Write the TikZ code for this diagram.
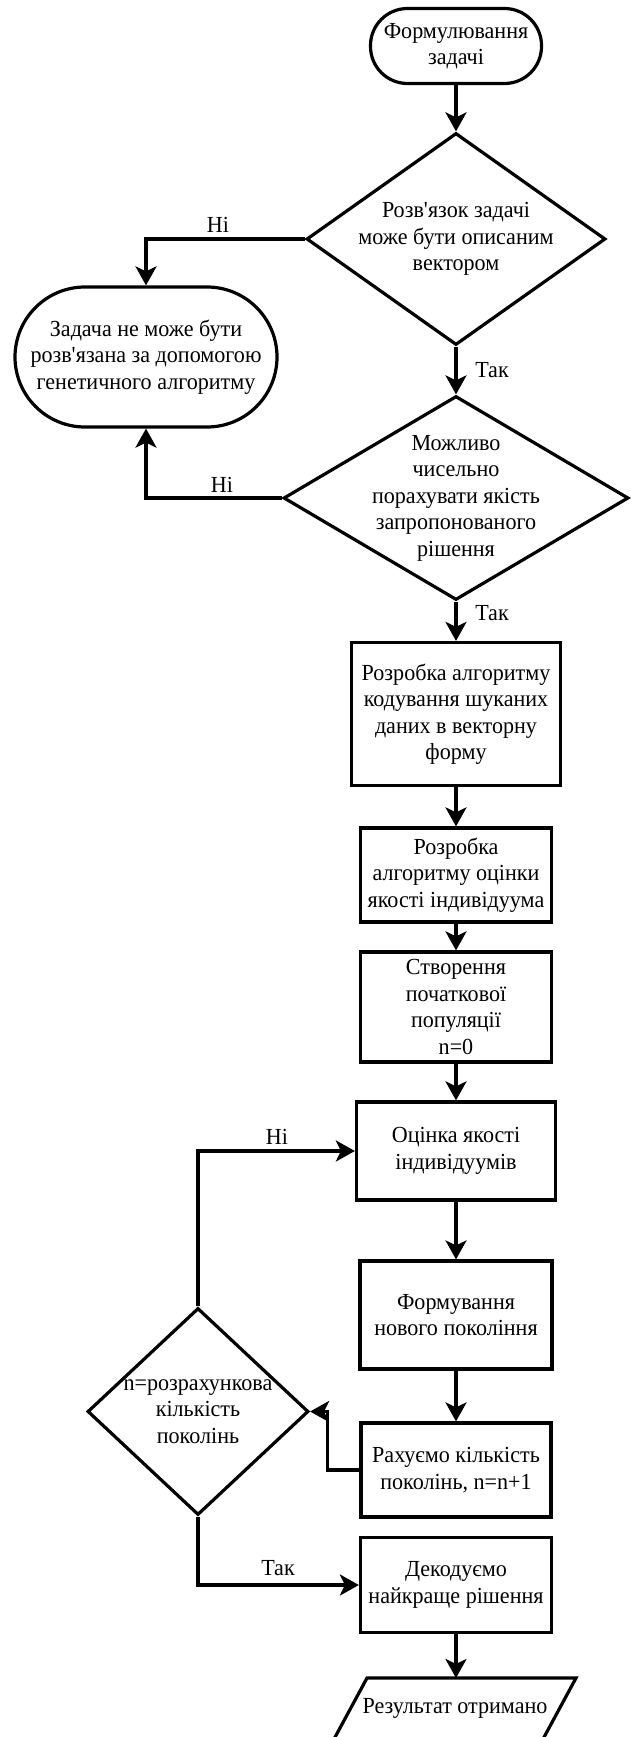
\documentclass[tikz,border=0pt]{standalone}
\usepackage{fontspec}
\setmainfont{Liberation Serif}
\newfontfamily\serf{Liberation Serif}[FakeStretch=0.96]
\usetikzlibrary{shapes.geometric,arrows.meta,calc}
\begin{document}
\begin{tikzpicture}[x=1pt,y=-1pt,
  every node/.style={font=\serf\fontsize{23}{26.5}\selectfont},
  lw/.style={line width=3.2pt},
  term/.style={draw, lw, rectangle, inner sep=0pt, align=center},
  box/.style={draw, lw, rectangle, inner sep=0pt, align=center},
  dia/.style={draw, lw, diamond, inner sep=0pt},
  txt/.style={align=center, inner sep=0pt},
  arr/.style={lw, -{Stealth[length=19pt,width=21pt,inset=5pt]}},
  lab/.style={inner sep=0pt}
]
\useasboundingbox (0,0) rectangle (630,1737);
\node[term, minimum width=171pt, minimum height=75pt, rounded corners=37pt] (start) at (456,46) {Формулювання\\задачі};
\node[dia, minimum width=299pt, minimum height=212pt] (d1) at (456,239) {};
\node[txt] (d1t) at (d1) {Розв\textquotesingle язок задачі\\може бути описаним\\вектором};
\node[term, minimum width=262pt, minimum height=140pt, rounded corners=70pt] (lt) at (146,357) {Задача не може бути\\розв\textquotesingle язана за допомогою\\генетичного алгоритму};
\node[dia, minimum width=345pt, minimum height=204pt] (d2) at (456,498) {};
\node[txt] (d2t) at (d2) {Можливо\\чисельно\\порахувати якість\\запропонованого\\рішення};
\node[box, minimum width=209pt, minimum height=143pt] (b1) at (456,714) {Розробка алгоритму\\кодування шуканих\\даних в векторну\\форму};
\node[box, minimum width=191pt, minimum height=94pt] (b2) at (456,875) {Розробка\\алгоритму оцінки\\якості індивідуума};
\node[box, minimum width=191pt, minimum height=110pt] (b3) at (456,1007) {Створення\\початкової\\популяції\\n=0};
\node[box, minimum width=199pt, minimum height=98pt] (b4) at (456,1151) {Оцінка якості\\індивідуумів};
\node[box, minimum width=192pt, minimum height=108pt] (b5) at (456,1315) {Формування\\нового покоління};
\node[box, minimum width=190pt, minimum height=94pt] (b6) at (456,1470) {Рахуємо кількість\\поколінь, n=n+1};
\node[dia, minimum width=221pt, minimum height=207pt] (d3) at (198,1411.5) {};
\node[txt] (d3t) at (d3) {n=розрахункова\\кількість\\поколінь};
\node[box, minimum width=191pt, minimum height=95pt] (b7) at (456,1585) {Декодуємо\\найкраще рішення};
\draw[lw] (333.5,1740) -- (367,1678) -- (576,1678) -- (542.5,1740) -- cycle;
\coordinate (ptop) at (456,1678);
\node[txt] (res) at (455,1708) {Результат отримано};
% connectors
\draw[arr] (start) -- (d1);
\draw[arr] (d1.west) -| (lt.north);
\draw[arr] (d1) -- (d2);
\draw[arr] (d2.west) -| (lt.south);
\draw[arr] (d2) -- (b1);
\draw[arr] (b1) -- (b2);
\draw[arr] (b2) -- (b3);
\draw[arr] (b3) -- (b4);
\draw[arr] (b4) -- (b5);
\draw[arr] (b5) -- (b6);
\draw[arr] (b6.west) -- ++(-32,0) |- (d3.east);
\draw[arr] (d3.north) |- (b4.west);
\draw[arr] (d3.south) |- (b7.west);
\draw[arr] (b7) -- (ptop);
% labels
\node[lab] (l1) at (218,225) {Ні};
\node[lab] (l2) at (492,370) {Так};
\node[lab] (l3) at (222,485) {Ні};
\node[lab] (l4) at (492,613) {Так};
\node[lab] (l5) at (277,1137) {Ні};
\node[lab] (l6) at (278,1568) {Так};
\end{tikzpicture}
\end{document}
